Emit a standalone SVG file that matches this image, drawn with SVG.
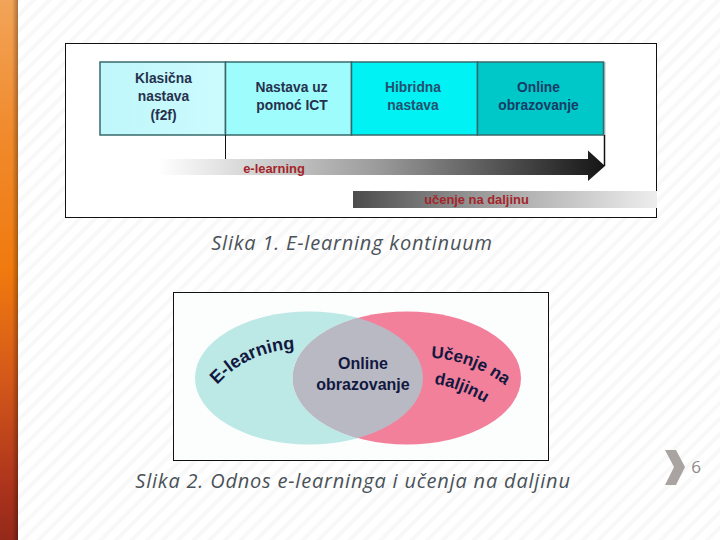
<svg xmlns="http://www.w3.org/2000/svg" width="720" height="540" viewBox="0 0 720 540">
<style>
.b{font-family:"Liberation Sans",Arial,sans-serif;font-weight:700;font-size:13.800px;text-anchor:middle}
.s{font-size:12.900px}
.v{font-size:16px;fill:#12183f}
.a{font-size:18px;fill:#12183f;text-anchor:start}
.d{font-size:17px;fill:#12183f;text-anchor:start}
.c{font-family:"Open Sans","DejaVu Sans",sans-serif;font-style:italic;font-size:20px;letter-spacing:.8px;fill:#4a5258;text-anchor:middle}
.cell{stroke:#37696b;stroke-width:1.500}
</style>
<defs>
<pattern id="hatch" width="11" height="11" patternUnits="userSpaceOnUse" patternTransform="rotate(45)"><rect width="11" height="11" fill="#fff"/><rect width="4" height="11" fill="#f8f8f8"/></pattern>
<linearGradient id="side" x1="0" y1="0" x2="0" y2="1"><stop offset="0" stop-color="#f2a458"/><stop offset=".25" stop-color="#f08a2c"/><stop offset=".5" stop-color="#f07a0e"/><stop offset=".7" stop-color="#d4591a"/><stop offset=".9" stop-color="#ac341c"/><stop offset="1" stop-color="#94291a"/></linearGradient>
<linearGradient id="shade" x1="0" x2="1"><stop offset="0" stop-color="#000" stop-opacity="0"/><stop offset="1" stop-color="#000" stop-opacity=".3"/></linearGradient>
<linearGradient id="el" x1="0" x2="1"><stop offset="0" stop-color="#fff"/><stop offset=".5" stop-color="#999"/><stop offset="1" stop-color="#151515"/></linearGradient>
<linearGradient id="ud" x1="0" x2="1"><stop offset="0" stop-color="#4c4c4c"/><stop offset=".5" stop-color="#a8a8a8"/><stop offset="1" stop-color="#eee"/></linearGradient>
<linearGradient id="k" x1="0" x2="1"><stop offset="0" stop-color="#bff7fb"/><stop offset="1" stop-color="#ccfbfd"/></linearGradient>
<clipPath id="left-clip"><ellipse cx="309" cy="378" rx="114" ry="66.500"/></clipPath>
<path id="arc-el" d="M217 385Q248 351 296 349"/>
<path id="arc-u1" d="M431 358Q475 360 511 390"/>
<path id="arc-u2" d="M434 384Q462 388 490 406"/>
</defs>
<rect width="720" height="540" fill="url(#hatch)"/>
<rect width="18" height="540" fill="url(#side)"/>
<rect x="12" width="6" height="540" fill="url(#shade)"/>

<g id="figure-1">
<rect x="65.500" y="43.500" width="591" height="174" fill="#fff" stroke="#111"/>
<rect x="604" y="62" width="1.500" height="73" fill="#a9c9c9"/>
<g id="node-klasicna"><rect class="cell" x="100" y="62" width="125.500" height="73" fill="url(#k)"/><text class="b" x="163.500" y="83" fill="#26314d">Klasična</text><text class="b" x="163.500" y="101" fill="#26314d">nastava</text><text class="b" x="163.500" y="120" fill="#26314d">(f2f)</text></g>
<g id="node-ict"><rect class="cell" x="225.500" y="62" width="126" height="73" fill="#9ffcfd"/><text class="b" x="291.500" y="92" fill="#26314d">Nastava uz</text><text class="b" x="292" y="110" fill="#26314d">pomoć ICT</text></g>
<g id="node-hibridna"><rect class="cell" x="351.500" y="62" width="126" height="73" fill="#00f2f4"/><text class="b" x="413" y="92" fill="#24506e">Hibridna</text><text class="b" x="413" y="110" fill="#24506e">nastava</text></g>
<g id="node-online"><rect class="cell" x="477.500" y="62" width="126" height="73" fill="#00c8c8"/><text class="b" x="538.500" y="92" fill="#173c66">Online</text><text class="b" x="538.500" y="110" fill="#173c66">obrazovanje</text></g>
<g id="connectors">
<path d="M225.500 135V159" stroke="#111" fill="none"/>
<path d="M604.500 135V166" stroke="#111" stroke-width="1.500" fill="none"/>
</g>
<g id="node-elearning"><path d="M158 159H588V150.500L605 166L588 181V175H158Z" fill="url(#el)"/><text class="b s" x="274" y="173" fill="#a5242a">e-learning</text></g>
<g id="node-daljina"><rect x="353" y="191" width="304" height="17" fill="url(#ud)"/><text class="b s" x="476.500" y="204" fill="#a5242a">učenje na daljinu</text></g>
</g>
<text class="c" x="352" y="250">Slika 1. E-learning kontinuum</text>

<g id="figure-2">
<rect x="173.500" y="292.500" width="375" height="168" fill="#fcfefe" stroke="#111"/>
<g id="node-el"><ellipse cx="309" cy="378" rx="114" ry="66.500" fill="#bce8e6"/></g>
<g id="node-dl"><ellipse cx="407" cy="378" rx="114" ry="66.500" fill="#f3809b"/></g>
<g id="node-overlap"><ellipse cx="407" cy="378" rx="114" ry="66.500" fill="#b8b9c3" clip-path="url(#left-clip)"/><text class="b v" x="363" y="369">Online</text><text class="b v" x="363" y="390">obrazovanje</text></g>
<text class="b a"><textPath href="#arc-el">E-learning</textPath></text>
<text class="b d"><textPath href="#arc-u1">Učenje na</textPath></text>
<text class="b d"><textPath href="#arc-u2">daljinu</textPath></text>
</g>
<text class="c" x="353" y="488">Slika 2. Odnos e-learninga i učenja na daljinu</text>

<g id="page-number">
<path d="M665 450H676L685 467L676 485H665L674 467Z" fill="#a9a4a2"/>
<text x="696" y="473" font-family="Open Sans,DejaVu Sans,sans-serif" font-size="17" fill="#8f8a88" text-anchor="middle">6</text>
</g>
</svg>
